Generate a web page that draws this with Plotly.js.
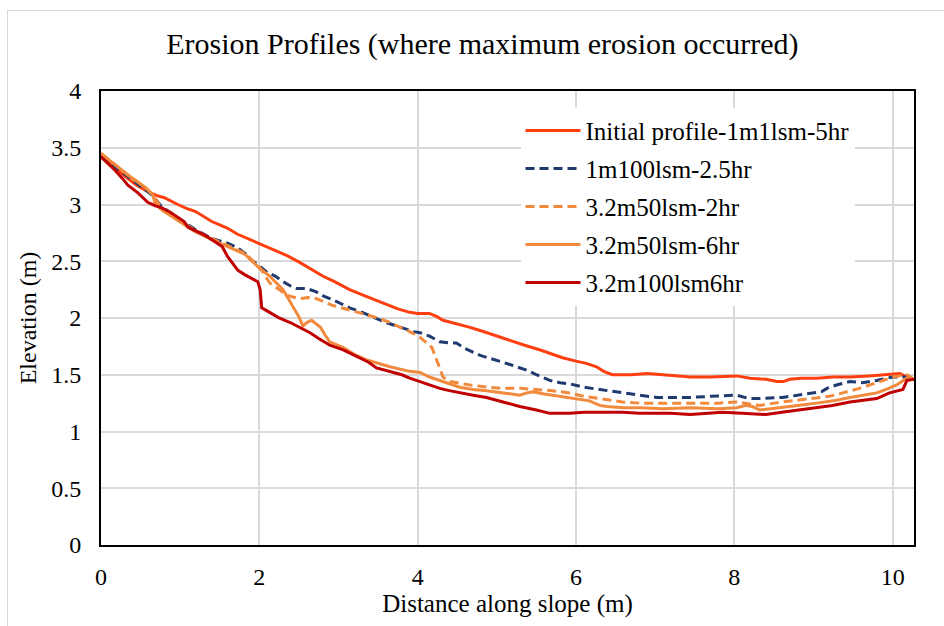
<!DOCTYPE html>
<html>
<head>
<meta charset="utf-8">
<script src="https://cdn.plot.ly/plotly-3.0.1.min.js"></script>
<style>
  html, body { margin: 0; padding: 0; background: #fff; overflow: hidden; }
  #frame { position: absolute; left: 7px; top: 10px; width: 950px; height: 640px; border: 1px solid #D9D9D9; box-sizing: border-box; }
  #chart { position: absolute; left: 0; top: 0; width: 944px; height: 626px; }
</style>
</head>
<body>
<div id="frame"></div>
<div id="chart"></div>
<script>
const seriesNames = ["Initial profile-1m1lsm-5hr", "1m100lsm-2.5hr", "3.2m50lsm-2hr", "3.2m50lsm-6hr", "3.2m100lsm6hr"];

const initX = [0,0.1,0.2,0.3,0.45,0.6,0.7,0.8,0.97,1.1,1.19,1.3,1.4,1.5,1.6,1.72,1.82,1.95,2.07,2.2,2.35,2.51,2.65,2.8,2.95,3.14,3.35,3.56,3.75,3.9,4.0,4.15,4.25,4.32,4.5,4.65,4.79,5.0,5.2,5.35,5.54,5.7,5.83,6.0,6.13,6.26,6.35,6.46,6.7,6.9,7.15,7.3,7.44,7.7,8.03,8.2,8.4,8.54,8.62,8.7,8.85,9.04,9.25,9.46,9.7,9.87,10.0,10.09,10.15,10.21,10.27];
const initY = [3.44,3.38,3.31,3.25,3.17,3.11,3.08,3.06,3.0,2.96,2.94,2.89,2.85,2.82,2.79,2.74,2.71,2.67,2.64,2.6,2.55,2.49,2.43,2.37,2.32,2.25,2.19,2.13,2.08,2.05,2.04,2.04,2.01,1.98,1.95,1.92,1.89,1.84,1.79,1.76,1.72,1.68,1.65,1.62,1.6,1.57,1.53,1.5,1.5,1.51,1.5,1.49,1.48,1.48,1.49,1.47,1.46,1.44,1.44,1.46,1.47,1.47,1.48,1.48,1.49,1.5,1.51,1.51,1.49,1.46,1.46];

const blueX = [0,0.1,0.2,0.35,0.56,0.65,0.72,0.77,0.87,0.97,1.08,1.19,1.3,1.4,1.5,1.6,1.72,1.82,1.9,2.0,2.1,2.2,2.3,2.4,2.47,2.6,2.72,2.82,2.93,3.05,3.14,3.3,3.48,3.6,3.78,3.95,4.03,4.15,4.28,4.4,4.49,4.6,4.79,4.95,5.08,5.25,5.38,5.5,5.67,5.8,5.92,6.1,6.3,6.45,6.59,6.8,7.02,7.2,7.44,7.7,7.9,8.03,8.19,8.32,8.61,8.8,8.95,9.1,9.17,9.29,9.46,9.62,9.8,10.0,10.21,10.27];
const blueY = [3.43,3.38,3.32,3.24,3.13,3.08,3.02,2.98,2.93,2.88,2.83,2.78,2.74,2.7,2.68,2.66,2.62,2.57,2.51,2.46,2.4,2.37,2.32,2.28,2.26,2.26,2.23,2.19,2.16,2.12,2.09,2.05,2.0,1.96,1.92,1.88,1.87,1.84,1.79,1.78,1.78,1.73,1.67,1.64,1.61,1.57,1.54,1.5,1.45,1.43,1.42,1.39,1.37,1.35,1.34,1.32,1.3,1.3,1.3,1.31,1.32,1.32,1.29,1.29,1.3,1.32,1.33,1.35,1.38,1.41,1.44,1.43,1.45,1.48,1.48,1.46];

const o2X = [0,0.18,0.34,0.56,0.66,0.77,0.97,1.19,1.4,1.6,1.82,2.0,2.13,2.25,2.35,2.51,2.62,2.72,2.82,2.93,3.14,3.36,3.5,3.65,3.78,3.9,4.03,4.12,4.18,4.24,4.32,4.41,4.66,4.9,5.08,5.3,5.5,5.7,5.92,6.1,6.3,6.59,6.8,7.02,7.44,7.8,8.03,8.2,8.32,8.61,8.85,9.04,9.2,9.37,9.58,9.8,10.0,10.18,10.27];
const o2Y = [3.45,3.35,3.26,3.15,3.08,2.96,2.87,2.77,2.7,2.64,2.57,2.45,2.31,2.25,2.2,2.17,2.18,2.17,2.14,2.11,2.07,2.03,2.0,1.96,1.92,1.88,1.83,1.78,1.74,1.63,1.48,1.44,1.41,1.39,1.38,1.38,1.37,1.36,1.34,1.31,1.29,1.26,1.25,1.25,1.25,1.25,1.26,1.24,1.23,1.26,1.28,1.3,1.31,1.34,1.38,1.43,1.48,1.5,1.46];

const o6X = [0,0.18,0.34,0.56,0.66,0.68,0.77,0.97,1.19,1.4,1.6,1.82,2.0,2.13,2.3,2.42,2.5,2.55,2.6,2.66,2.72,2.77,2.83,2.89,3.06,3.2,3.36,3.5,3.65,3.9,4.03,4.15,4.28,4.4,4.53,4.7,4.87,5.08,5.29,5.38,5.45,5.6,5.8,6.05,6.17,6.3,6.39,6.6,6.81,7.1,7.44,7.8,8.03,8.15,8.23,8.32,8.45,8.61,8.8,9.04,9.25,9.46,9.65,9.8,9.95,10.05,10.18,10.27];
const o6Y = [3.45,3.35,3.26,3.15,3.08,3.01,2.95,2.86,2.76,2.69,2.63,2.56,2.44,2.37,2.25,2.11,2.01,1.93,1.96,1.98,1.95,1.92,1.85,1.79,1.74,1.68,1.63,1.6,1.57,1.53,1.52,1.48,1.45,1.42,1.39,1.37,1.36,1.34,1.32,1.34,1.35,1.33,1.31,1.28,1.27,1.23,1.22,1.21,1.21,1.2,1.21,1.2,1.21,1.23,1.22,1.19,1.2,1.21,1.23,1.25,1.27,1.3,1.32,1.34,1.38,1.41,1.47,1.46];

const drX = [0,0.08,0.18,0.27,0.34,0.47,0.59,0.68,0.77,0.88,0.97,1.05,1.1,1.2,1.31,1.42,1.53,1.6,1.66,1.73,1.82,1.91,1.98,2.01,2.03,2.13,2.25,2.39,2.5,2.64,2.75,2.89,3.06,3.15,3.27,3.38,3.48,3.6,3.69,3.8,3.9,4.03,4.15,4.28,4.4,4.53,4.7,4.87,5.08,5.29,5.5,5.67,5.8,5.92,6.1,6.3,6.59,6.8,7.02,7.2,7.44,7.65,7.85,8.1,8.32,8.4,8.6,8.83,9.05,9.24,9.46,9.65,9.8,9.96,10.13,10.18,10.27];
const drY = [3.42,3.37,3.3,3.23,3.17,3.1,3.02,2.99,2.97,2.93,2.89,2.85,2.8,2.77,2.73,2.68,2.63,2.54,2.48,2.42,2.38,2.35,2.32,2.25,2.09,2.05,2.0,1.96,1.92,1.87,1.82,1.76,1.72,1.69,1.65,1.61,1.56,1.54,1.52,1.5,1.47,1.44,1.41,1.38,1.36,1.34,1.32,1.3,1.26,1.22,1.19,1.16,1.16,1.16,1.17,1.17,1.17,1.16,1.16,1.16,1.15,1.16,1.17,1.16,1.15,1.15,1.17,1.19,1.21,1.23,1.26,1.28,1.29,1.34,1.37,1.45,1.46];

const xTicks = [0, 2, 4, 6, 8, 10];
const yTicks = [0, 0.5, 1, 1.5, 2, 2.5, 3, 3.5, 4];

const font = "Liberation Serif";
function tr(x, y, i, color, dash) {
  return { x: x, y: y, name: seriesNames[i], type: "scatter", mode: "lines",
    legendgroup: "g" + i,
    line: { color: color, width: 3, dash: dash, shape: "linear" } };
}
const data = [
  tr(initX, initY, 0, "#FF3F0F", "solid"),
  tr(blueX, blueY, 1, "#1F3A6E", "9px,5px"),
  tr(o2X, o2Y, 2, "#F28A3E", "9px,5px"),
  tr(o6X, o6Y, 3, "#F28A3E", "solid"),
  tr(drX, drY, 4, "#C00000", "solid")
];
const layout = {
  width: 944, height: 626,
  paper_bgcolor: "rgba(0,0,0,0)", plot_bgcolor: "#fff",
  margin: { l: 101, r: 30, t: 91, b: 81 },
  font: { family: font, color: "#000", size: 24 },
  title: { text: "Erosion Profiles (where maximum erosion occurred)", font: { family: font, size: 30, color: "#000" },
    x: 0.511, xanchor: "center", y: 0.93, yanchor: "middle", yref: "container" },
  xaxis: { range: [0, 10.27], tickvals: xTicks, ticktext: xTicks.map(String), showgrid: true, gridcolor: "#D9D9D9", gridwidth: 2,
    showline: true, linecolor: "#000", linewidth: 2, mirror: true, ticks: "", ticklabelstandoff: 9, zeroline: false,
    tickfont: { family: font, size: 24 },
    title: { text: "Distance along slope (m)", font: { family: font, size: 25 }, standoff: 4 } },
  yaxis: { range: [0, 4], tickvals: yTicks, ticktext: yTicks.map(String), showgrid: true, gridcolor: "#D9D9D9", gridwidth: 2,
    showline: true, linecolor: "#000", linewidth: 2, mirror: true, ticks: "", ticklabelstandoff: 13, zeroline: false,
    tickfont: { family: font, size: 24 },
    title: { text: "Elevation (m)", font: { family: font, size: 24 }, standoff: 8 } },
  legend: { x: 0.516, y: 0.963, xanchor: "left", yanchor: "top", bgcolor: "#fff", borderwidth: 0,
    font: { family: font, size: 25 }, itemwidth: 55, traceorder: "grouped", tracegroupgap: 2.5 },
  showlegend: true
};
Plotly.newPlot("chart", data, layout, { displayModeBar: false, staticPlot: true });
</script>
</body>
</html>
